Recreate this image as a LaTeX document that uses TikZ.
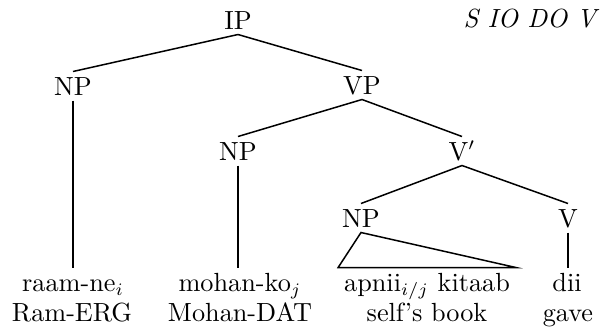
\documentclass[tikz,border=0pt]{standalone}
\begin{document}
\begin{tikzpicture}[x=0.4pt,y=-0.4pt,
  every node/.style={font=\fontsize{10.5}{12.6}\selectfont},
  cat/.style={anchor=base,inner sep=2pt,text height=7.2pt,text depth=0pt},
  leaf/.style={anchor=base,inner ysep=2pt,inner xsep=2.2pt,text height=7.2pt},
  edge/.style={line width=0.6pt}]
\useasboundingbox (0,0) rectangle (601,329);
\node[cat] (IP) at (238,29) {IP};
\node[anchor=base west,inner sep=0pt] (order) at (463,27) {\textit{S IO DO V}};
\node[cat] (NPa) at (73,95) {NP};
\node[cat] (VP) at (362,94) {VP};
\node[cat] (NPb) at (238,160) {NP};
\node[cat] (Vbar) at (462,160) {V$'$};
\node[cat] (NPc) at (361,227) {NP};
\node[cat] (V) at (568,227) {V};
\node[leaf] (la) at (73,291) {raam-ne$_i$};
\node[leaf] (lb) at (240,291) {mohan-ko$_j$};
\node[leaf] (lc) at (427,291) {apnii$_{i/j}$ kitaab};
\node[leaf] (ld) at (567,291) {dii};
\node[anchor=base] (ga) at (72,321) {Ram-ERG};
\node[anchor=base] (gb) at (240,321) {Mohan-DAT};
\node[anchor=base] (gc) at (427,321) {self's book};
\node[anchor=base] (gd) at (568,321) {gave};
\draw[edge] (IP.south) -- (NPa.north);
\draw[edge] (IP.south) -- (VP.north);
\draw[edge] (VP.south) -- (NPb.north);
\draw[edge] (VP.south) -- (Vbar.north);
\draw[edge] (Vbar.south) -- (NPc.north);
\draw[edge] (Vbar.south) -- (V.north);
\draw[edge] (NPa.south) -- (NPa.south |- la.north);
\draw[edge] (NPb.south) -- (NPb.south |- lb.north);
\draw[edge] (V.south) -- (V.south |- ld.north);
\draw[edge] (NPc.south) -- (lc.north west) -- (lc.north east) -- cycle;
\end{tikzpicture}
\end{document}
